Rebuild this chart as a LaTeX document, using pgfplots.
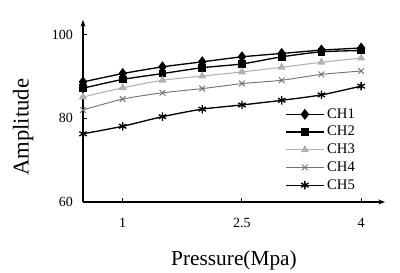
\documentclass[border=0pt]{standalone}
\usepackage{fontspec}
\setmainfont{Liberation Serif}
\usepackage{pgfplots}
\usetikzlibrary{arrows.meta}
\pgfplotsset{compat=1.18}
\begin{document}
\begin{tikzpicture}
\useasboundingbox (-62.25pt,-52.5pt) rectangle (237.75pt,151.5pt);
\begin{axis}[
  scale only axis, width=226.5pt, height=136.5pt,
  xmin=0.5, xmax=4.3, ymin=60, ymax=103.5,
  axis lines=left,
  axis line style={line width=0.9pt, -{Stealth[length=5pt]}},
  xtick={1,2.5,4}, ytick={60,80,100},
  tick align=inside, major tick length=3pt,
  tick style={line width=0.7pt, black},
  /pgf/number format/assume math mode=true,
  tick label style={font=\fontsize{10.5}{12}\selectfont},
  xticklabel style={yshift=-9pt},
  yticklabel style={xshift=-4pt},
  xlabel={Pressure(Mpa)}, ylabel={Amplitude},
  xlabel style={font=\fontsize{16}{18}\selectfont, at={(rel axis cs:0.5,0)}, yshift=-33pt},
  ylabel style={font=\fontsize{17}{19}\selectfont, at={(ticklabel cs:0.41)}, yshift=7pt},
  legend style={draw=none, fill=none, at={(rel axis cs:0.91,0.53)}, anchor=north east,
    font=\fontsize{11}{12}\selectfont, row sep=0.5pt, inner sep=0pt},
  legend cell align=left,
  legend image code/.code={\draw[mark repeat=2,mark phase=2] plot coordinates {(0cm,0cm) (0.5cm,0cm) (1cm,0cm)};},
  every axis plot/.append style={smooth, tension=0.4},
]
\addplot[black, line width=1pt, mark=diamond*, mark size=3.4pt, mark options={solid}] coordinates {
(0.5,88.7) (1,90.7) (1.5,92.3) (2,93.5) (2.5,94.7) (3,95.5) (3.5,96.3) (4,96.8)};
\addlegendentry{CH1}
\addplot[black, line width=1pt, mark=square*, mark size=2.4pt] coordinates {
(0.5,87.2) (1,89.3) (1.5,90.7) (2,92.1) (2.5,93.0) (3,94.7) (3.5,95.9) (4,96.2)};
\addlegendentry{CH2}
\addplot[black!30, line width=0.8pt, mark=triangle*, mark size=2.8pt] coordinates {
(0.5,85.1) (1,87.3) (1.5,89.1) (2,90.1) (2.5,91.1) (3,92.2) (3.5,93.4) (4,94.4)};
\addlegendentry{CH3}
\addplot[black!55, line width=0.7pt, mark=x, mark size=3pt] coordinates {
(0.5,82.0) (1,84.6) (1.5,86.1) (2,87.1) (2.5,88.3) (3,89.1) (3.5,90.5) (4,91.3)};
\addlegendentry{CH4}
\addplot[black, line width=1pt, mark=asterisk, mark size=3.2pt] coordinates {
(0.5,76.3) (1,78.1) (1.5,80.4) (2,82.2) (2.5,83.2) (3,84.3) (3.5,85.6) (4,87.7)};
\addlegendentry{CH5}
\end{axis}
\end{tikzpicture}
\end{document}
